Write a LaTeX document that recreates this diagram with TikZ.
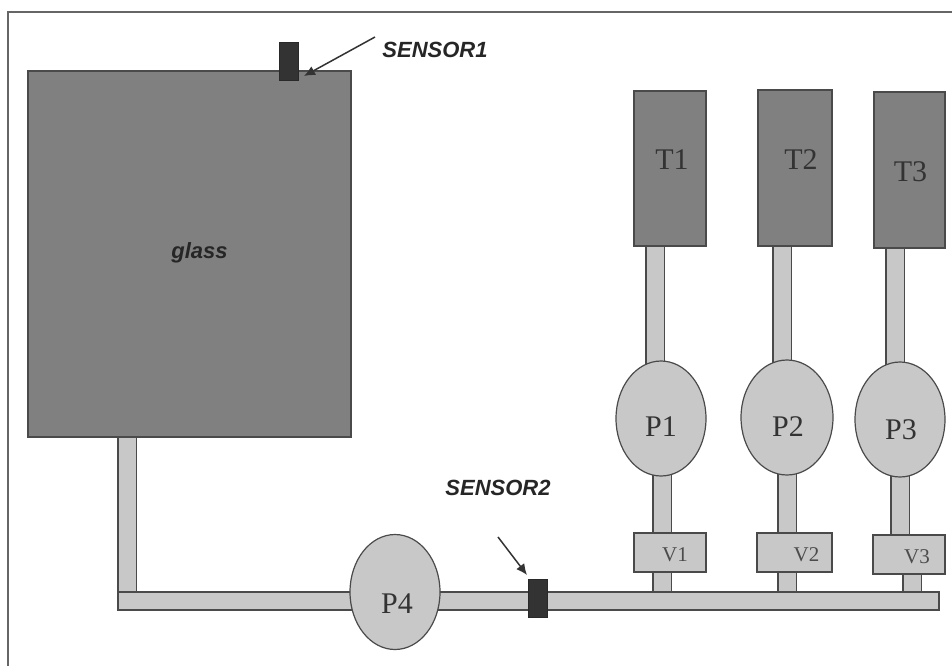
\documentclass[tikz,border=0pt]{standalone}
\usepackage{fontspec}
\setmainfont{Liberation Serif}
\newfontfamily\labelfont{Liberation Sans}
\usetikzlibrary{positioning, arrows.meta, shapes.geometric, backgrounds}

\definecolor{tankgray}{HTML}{808080}
\definecolor{partgray}{HTML}{C8C8C8}
\definecolor{edgegray}{HTML}{4A4A4A}
\definecolor{sensorgray}{HTML}{333333}

\tikzset{
  tank/.style={draw=edgegray, fill=tankgray, line width=1.5pt, inner sep=0pt, outer sep=0pt},
  pump/.style={ellipse, draw=edgegray, fill=partgray, line width=1.2pt, inner sep=0pt, outer sep=0pt, minimum width=90pt, minimum height=115pt},
  valve/.style={draw=edgegray, fill=partgray, line width=1.5pt, inner sep=0pt, outer sep=0pt, minimum height=39pt},
  sensorbox/.style={draw=sensorgray!80!black, fill=sensorgray, line width=1pt, inner sep=0pt, outer sep=0pt, minimum width=19pt, minimum height=38pt},
  pipe/.style={draw=edgegray, line width=1.5pt, double=partgray, double distance=17pt, line cap=butt},
  bigtext/.style={font=\fontsize{30}{32}\selectfont, text=black!80},
  valvetext/.style={font=\fontsize{21}{23}\selectfont, text=black!70},
  sensortext/.style={font=\labelfont\bfseries\itshape\fontsize{22}{24}\selectfont, text=black!85},
  pointer/.style={-{Latex[length=11pt,width=10pt]}, draw=black!80, line width=1.5pt}
}

\begin{document}
\begin{tikzpicture}[x=1pt, y=-1pt]
\useasboundingbox (0,0) rectangle (952,666);
\draw[black!60, line width=1.5pt] (8,666) -- (8,12) -- (952,12);

% tanks
\node (glass) [tank, minimum width=323pt, minimum height=366pt] at (189.5,254) {};
\node (T1) [tank, minimum width=72pt, minimum height=155pt] at (670,168.5) {};
\node (T2) [tank, minimum width=74pt, minimum height=156pt] at (795,168) {};
\node (T3) [tank, minimum width=71pt, minimum height=156pt] at (909.5,170) {};

% pumps
\node (P1) [pump] at (661,418.5) {};
\node (P2) [pump, minimum width=92pt] at (787,417.5) {};
\node (P3) [pump] at (900,419.5) {};

% valves
\node (V1) [valve, minimum width=72pt] at (670,552.5) {};
\node (V2) [valve, minimum width=75pt] at (794.5,552.5) {};
\node (V3) [valve, minimum width=72pt] at (909,554.5) {};

% main line
\node (header) [valve, minimum width=821pt, minimum height=18pt] at (528.5,601) {};
\node (P4) [pump] at (395,592) {};
\node (sensor1) [sensorbox] at (288.5,62) {};
\node (sensor2) [sensorbox] at (537.5,598) {};

% texts
\node (glasstext) [sensortext] at ([xshift=10pt, yshift=1pt]glass.center) {glass};
\node (T1text) [bigtext] at ([xshift=2pt, yshift=9pt]T1.center) {T1};
\node (T2text) [bigtext] at ([xshift=6pt, yshift=8pt]T2.center) {T2};
\node (T3text) [bigtext] at ([xshift=1pt, yshift=-2pt]T3.center) {T3};
\node (P1text) [bigtext] at ([yshift=-8pt]P1.center) {P1};
\node (P2text) [bigtext] at ([xshift=1pt, yshift=-9pt]P2.center) {P2};
\node (P3text) [bigtext] at ([xshift=1pt, yshift=-10pt]P3.center) {P3};
\node (P4text) [bigtext] at ([xshift=2pt, yshift=-12pt]P4.center) {P4};
\node (V1text) [valvetext] at ([xshift=5pt, yshift=-2pt]V1.center) {V1};
\node (V2text) [valvetext] at ([xshift=12pt, yshift=-2pt]V2.center) {V2};
\node (V3text) [valvetext] at ([xshift=8pt, yshift=-2pt]V3.center) {V3};
\node (sensor1text) [sensortext] at (435,50) {SENSOR1};
\node (sensor2text) [sensortext] at (498,488) {SENSOR2};

% pointers
\coordinate (sensor1tail) at (375,37);
\coordinate (sensor1tip) at (304,76);
\coordinate (sensor2tail) at (498,537);
\coordinate (sensor2tip) at (527,575);
\draw[pointer] (sensor1tail) -- (sensor1tip);
\draw[pointer] (sensor2tail) -- (sensor2tip);

% pipes
\begin{scope}[on background layer]
\draw[pipe] ([xshift=-62.5pt]glass.south) -- ([xshift=-62.5pt]glass.south |- header.center);
\draw[pipe] ([xshift=-15pt]T1.south) -- ([xshift=-15pt]T1.south |- P1.center);
\draw[pipe] ([xshift=-13pt]T2.south) -- ([xshift=-13pt]T2.south |- P2.center);
\draw[pipe] ([xshift=-14.5pt]T3.south) -- ([xshift=-14.5pt]T3.south |- P3.center);
\draw[pipe] ([xshift=1pt]P1.center) -- ([xshift=1pt]P1.center |- header.center);
\draw[pipe] (P2.center) -- (P2.center |- header.center);
\draw[pipe] (P3.center) -- (P3.center |- V3.center);
\draw[pipe] ([xshift=3pt]V3.center) -- ([xshift=3pt]V3.center |- header.center);
\end{scope}
\end{tikzpicture}
\end{document}
